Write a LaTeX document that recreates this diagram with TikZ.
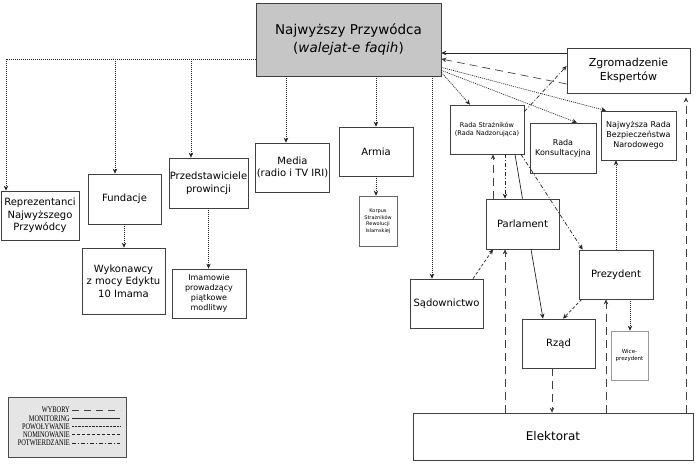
\documentclass[tikz,border=0pt]{standalone}
\usepackage{fontspec}
\setmainfont{DejaVu Sans}
\newfontfamily\legfont[FakeStretch=0.74]{Liberation Serif}
\usetikzlibrary{arrows.meta}
\begin{document}
\begin{tikzpicture}[x=1pt,y=-1pt,
  box/.style={draw=black!75, line width=0.7pt, fill=white, inner sep=1pt, align=center, font=\fontsize{10}{12.5}\selectfont},
  tip/.style={-{Stealth[length=5pt,width=4.5pt]}},
  wyb/.style={line width=0.7pt, draw=black!75, dash pattern=on 8pt off 5pt},
  mon/.style={line width=0.7pt, draw=black!85},
  pow/.style={line width=0.7pt, draw=black!85, dash pattern=on 1pt off 1pt},
  nom/.style={line width=0.7pt, draw=black!85, dash pattern=on 3pt off 2pt},
  pot/.style={line width=0.7pt, draw=black!85, dash pattern=on 4pt off 2pt on 1pt off 2pt},
  legtxt/.style={anchor=east, inner sep=0pt, font=\legfont\fontsize{8.6}{9}\selectfont},
]
\useasboundingbox (0,0) rectangle (696,470);

% nodes
\node[box, fill={rgb,255:red,198;green,198;blue,198}, minimum width=185pt, minimum height=73pt, font=\fontsize{13.5}{18}\selectfont] (np) at (348.5,39.5) {Najwyższy Przywódca\\(\textit{walejat-e faqih})};
\node[box, minimum width=78pt, minimum height=49pt] (rep) at (40,215.5) {Reprezentanci\\Najwyższego\\Przywódcy};
\node[box, minimum width=73pt, minimum height=50pt] (fund) at (124.5,199) {Fundacje};
\node[box, minimum width=79pt, minimum height=50pt] (prz) at (208.5,183) {Przedstawiciele\\prowincji};
\node[box, minimum width=83pt, minimum height=66pt] (wyk) at (123.5,281) {Wykonawcy\\z mocy Edyktu\\10 Imama};
\node[box, minimum width=74pt, minimum height=49pt, font=\fontsize{8}{10}\selectfont] (imam) at (209,293.5) {Imamowie\\prowadzący\\piątkowe\\modlitwy};
\node[box, minimum width=73pt, minimum height=49pt] (media) at (292.5,167.5) {Media\\(radio i TV IRI)};
\node[box, minimum width=74pt, minimum height=49pt] (armia) at (376,151.5) {Armia};
\node[box, draw=black!60, minimum width=38pt, minimum height=50pt, font=\fontsize{5}{6.5}\selectfont] (korpus) at (378,221) {Korpus\\Strażników\\Rewolucji\\Islamskiej};
\node[box, minimum width=73pt, minimum height=49pt] (sad) at (446.5,303.5) {Sądownictwo};
\node[box, minimum width=73pt, minimum height=50pt] (parl) at (522.5,224) {Parlament};
\node[box, minimum width=74pt, minimum height=49pt] (prez) at (616,274.5) {Prezydent};
\node[box, minimum width=73pt, minimum height=49pt] (rzad) at (558.5,343.5) {Rząd};
\node[box, draw=black!40, minimum width=37pt, minimum height=49pt, font=\fontsize{5.5}{7}\selectfont] (wice) at (629.5,355.5) {Wice-\\prezydent};
\node[box, minimum width=280pt, minimum height=47pt, font=\fontsize{12}{14}\selectfont] (elek) at (553,436.5) {Elektorat};
\node[box, minimum width=123pt, minimum height=45pt, font=\fontsize{11}{14}\selectfont] (zgr) at (628.5,70.5) {Zgromadzenie\\Ekspertów};
\node[box, minimum width=74pt, minimum height=49pt, font=\fontsize{6.5}{8.5}\selectfont] (rs) at (487,129.5) {Rada Strażników\\(Rada Nadzorująca)};
\node[box, minimum width=66pt, minimum height=50pt, font=\fontsize{8}{10}\selectfont] (rk) at (563,148) {Rada\\Konsultacyjna};
\node[box, minimum width=75pt, minimum height=49pt, font=\fontsize{8}{10}\selectfont] (nrb) at (638.5,135.5) {Najwyższa Rada\\Bezpieczeństwa\\Narodowego};

% legend
\node[draw=black!70, line width=0.6pt, fill=black!10, minimum width=118pt, minimum height=60pt] (leg) at (67,427) {};
\node[legtxt] (l1) at (70,410) {WYBORY};
\node[legtxt] (l2) at (70,418.5) {MONITORING};
\node[legtxt] (l3) at (70,426.5) {POWOŁYWANIE};
\node[legtxt] (l4) at (70,434.5) {NOMINOWANIE};
\node[legtxt] (l5) at (70,443) {POTWIERDZANIE};
\draw[wyb, line width=0.5pt, dash pattern=on 7pt off 5pt] ([xshift=2pt]l1.east) -- ++(48,0);
\draw[mon, line width=0.5pt] ([xshift=2pt]l2.east) -- ++(48,0);
\draw[pow, line width=0.5pt, dash pattern=on 0.6pt off 0.8pt] ([xshift=2pt]l3.east) -- ++(48,0);
\draw[nom, line width=0.5pt] ([xshift=2pt]l4.east) -- ++(48,0);
\draw[pot, line width=0.5pt] ([xshift=2pt]l5.east) -- ++(48,0);

% helper coordinates
\coordinate (tl) at (6,59);
\coordinate (tf) at (115,59);
\coordinate (tp) at (191,59);
\path ([xshift=-6.5pt]media.north) coordinate (mt);
\path (armia.north) coordinate (at);
\path ([xshift=-14.5pt]sad.north) coordinate (st);

% powoływanie from leader (left tree)
\draw[pow] (np.west |- tl) -- (tl);
\draw[pow, tip] (tl) -- (tl |- rep.north);
\draw[pow, tip] (tf) -- (tf |- fund.north);
\draw[pow, tip] (tp) -- (tp |- prz.north);
\draw[pow, tip] ([xshift=-0.5pt]fund.south) -- ([xshift=-0.5pt]wyk.north -| fund.south);
\draw[pow, tip] (prz.south) -- (prz.south |- imam.north);
\draw[pow, tip] (mt |- np.south) -- (mt);
\draw[pow, tip] (at |- np.south) -- (at);
\draw[pow, tip] (st |- np.south) -- (st);
\draw[pow, tip] (armia.south) -- (armia.south |- korpus.north);

% right side from leader
\draw[pow, tip] ([yshift=4pt]np.south east) -- ([xshift=-17pt]rs.north);
\draw[pow, tip] ([yshift=6pt]np.south east) -- ([xshift=14pt]rk.north);
\draw[pow, tip] ([yshift=9pt]np.south east) -- ([xshift=-32.5pt]nrb.north);

% Zgromadzenie -> leader
\path ([yshift=17.5pt]zgr.west) coordinate (z1);
\draw[mon, tip] (z1) -- (z1 -| np.east);
\draw[wyb, tip] ([yshift=-13.5pt]zgr.west) -- ([yshift=-19.5pt]np.east);

% Rada Strażników -> Zgromadzenie
\draw[pot, tip] ([yshift=-7pt]rs.north east) -- ([yshift=4.5pt]zgr.west);

% Parlament <-> Rada Strażników
\path ([xshift=-29.5pt]parl.north) coordinate (p1);
\draw[wyb, tip] (p1) -- (p1 |- rs.south);
\path ([xshift=-17.5pt]parl.north) coordinate (p2);
\draw[pot, tip] (p2 |- rs.south) -- (p2);

% monitoring Rada Strażników - Parlament - Rząd
\draw[mon] ([xshift=28pt]rs.south) -- (parl.north);
\draw[mon, tip] ([xshift=8.5pt]parl.south) -- ([xshift=-15.5pt]rzad.north);

% Rada Strażników -> Prezydent
\draw[pot, tip] ([xshift=34pt]rs.south) -- ([xshift=4pt]prez.north west);

% Sądownictwo -> Parlament
\draw[nom, tip] ([xshift=26.5pt]sad.north) -- ([xshift=-29.5pt]parl.south);

% Prezydent -> Rząd
\draw[nom, tip] ([xshift=3pt]prez.south west) -- ([xshift=4.5pt]rzad.north);

% Prezydent -> Wiceprezydent
\path ([xshift=14pt]prez.south) coordinate (w1);
\draw[pow, tip] (w1) -- (w1 |- wice.north);

% Prezydent -> Najwyższa Rada
\draw[pow, tip] (prez.north) -- (prez.north |- nrb.south);

% elections from Elektorat
\path ([xshift=-17.5pt]parl.south) coordinate (e1);
\draw[wyb, tip] (e1 |- elek.north) -- (e1);
\path ([xshift=-10pt]prez.south) coordinate (e2);
\draw[wyb, tip] (e2 |- elek.north) -- (e2);
\path ([xshift=57.5pt,yshift=-4pt]zgr.south) coordinate (e3);
\draw[wyb, tip] (e3 |- elek.north) -- (e3);

% Rząd -> Elektorat
\path ([xshift=-6.5pt]rzad.south) coordinate (r1);
\draw[wyb, tip] (r1) -- (r1 |- elek.north);
\end{tikzpicture}
\end{document}
